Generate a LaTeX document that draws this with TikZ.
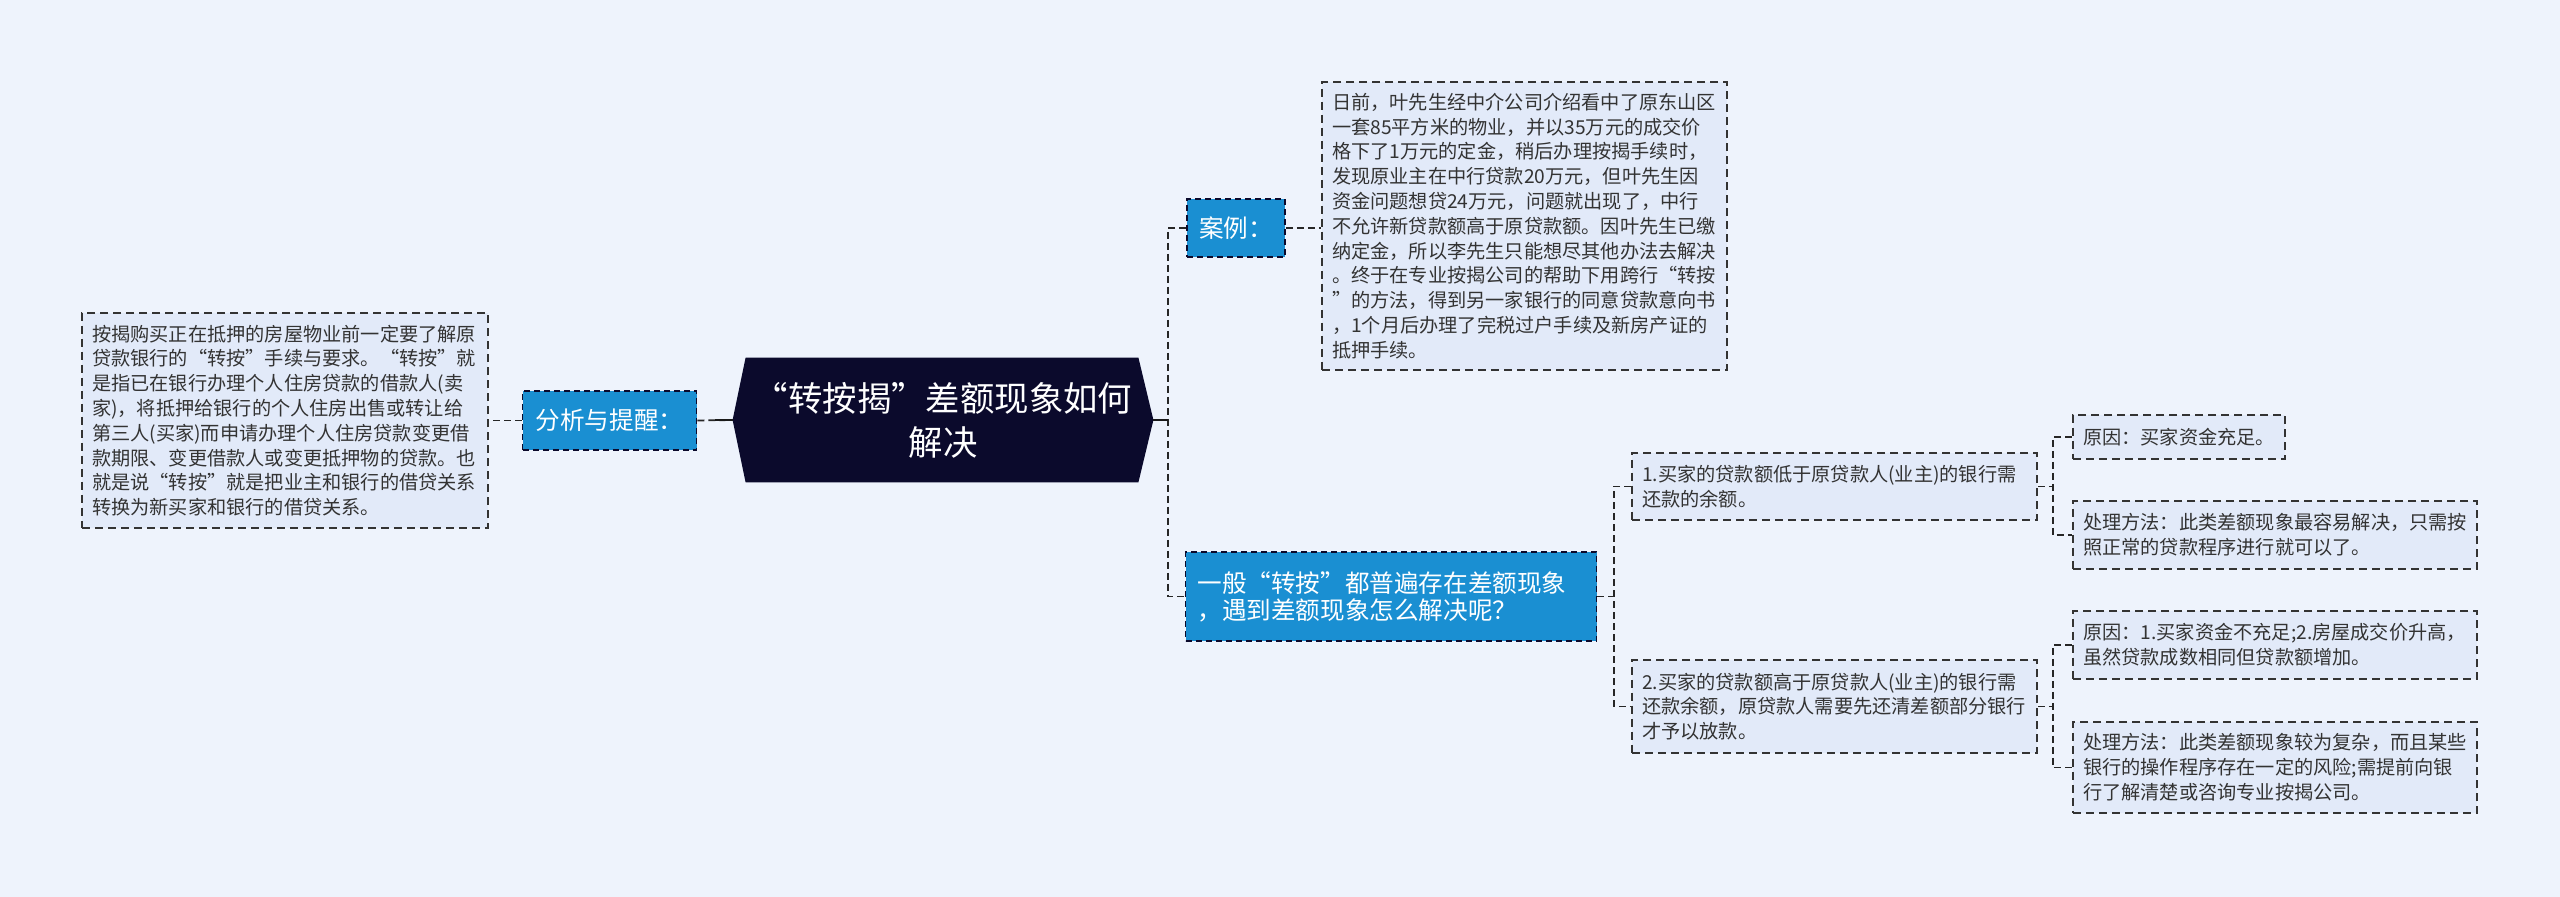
\documentclass[tikz,border=0pt]{standalone}
\usepackage{fontspec}
\setmainfont{Noto Sans CJK SC}
\usetikzlibrary{backgrounds}
\definecolor{bg}{HTML}{EEF3FC}
\definecolor{boxfill}{HTML}{E2EAF9}
\definecolor{bluefill}{HTML}{1A8FD2}
\definecolor{navy}{HTML}{0B0A2C}
\definecolor{txt}{HTML}{333333}
\begin{document}
\begin{tikzpicture}[x=0.5pt,y=-0.5pt,
  conn/.style={draw=black!85, line width=0.9pt, dash pattern=on 3.5pt off 2pt},
  solidconn/.style={draw=black!90, line width=1.4pt},
  textbox/.style={draw=black!80, line width=0.8pt, dash pattern=on 4pt off 2.5pt, fill=boxfill, text=txt, align=left, inner xsep=5pt, inner ysep=2pt, font=\fontsize{9.6}{12.4}\selectfont},
  bluebox/.style={draw=navy, line width=0.8pt, dash pattern=on 3pt off 2pt, fill=bluefill, text=white, align=left, inner xsep=6pt, inner ysep=2pt, font=\fontsize{12.3}{13.6}\selectfont},
  rootnode/.style={text=white, align=center, inner sep=0pt, font=\fontsize{17.2}{22}\selectfont}
]
\useasboundingbox (0,0) rectangle (2560,897);

% root
\node[rootnode, minimum width=210pt, minimum height=62pt] (root) at (943,420) {“转按揭”差额现象如何\\解决};

% left side
\node[bluebox, minimum width=87pt, minimum height=29.5pt, align=center] (fx) at (609.5,420.5) {分析与提醒：};
\node[textbox, text width=193pt, minimum height=107.5pt] (lb) at (285,420.5) {按揭购买正在抵押的房屋物业前一定要了解原\\贷款银行的“转按”手续与要求。“转按”就\\是指已在银行办理个人住房贷款的借款人(卖\\家)，将抵押给银行的个人住房出售或转让给\\第三人(买家)而申请办理个人住房贷款变更借\\款期限、变更借款人或变更抵押物的贷款。也\\就是说“转按”就是把业主和银行的借贷关系\\转换为新买家和银行的借贷关系。};

% right side, level 1
\node[bluebox, minimum width=49pt, minimum height=29pt, align=center] (case) at (1236,228) {案例：};
\node[bluebox, text width=193.5pt, minimum height=44.5pt] (gen) at (1391,596.5) {一般“转按”都普遍存在差额现象\\，遇到差额现象怎么解决呢？};

% level 2
\node[textbox, text width=192.5pt, minimum height=144pt] (cb) at (1524.5,226) {日前，叶先生经中介公司介绍看中了原东山区\\一套85平方米的物业，并以35万元的成交价\\格下了1万元的定金，稍后办理按揭手续时，\\发现原业主在中行贷款20万元，但叶先生因\\资金问题想贷24万元，问题就出现了，中行\\不允许新贷款额高于原贷款额。因叶先生已缴\\纳定金，所以李先生只能想尽其他办法去解决\\。终于在专业按揭公司的帮助下用跨行“转按\\”的方法，得到另一家银行的同意贷款意向书\\，1个月后办理了完税过户手续及新房产证的\\抵押手续。};
\node[textbox, text width=192.5pt, minimum height=33.5pt] (b1) at (1834.5,486.5) {1.买家的贷款额低于原贷款人(业主)的银行需\\还款的余额。};
\node[textbox, text width=192.5pt, minimum height=46.5pt] (b2) at (1834.5,706.5) {2.买家的贷款额高于原贷款人(业主)的银行需\\还款余额，原贷款人需要先还清差额部分银行\\才予以放款。};

% level 3
\node[textbox, text width=96pt, minimum height=22pt] (r1) at (2179,437) {原因：买家资金充足。};
\node[textbox, text width=192pt, minimum height=34pt] (r2) at (2275,535) {处理方法：此类差额现象最容易解决，只需按\\照正常的贷款程序进行就可以了。};
\node[textbox, text width=192pt, minimum height=34pt] (r3) at (2275,645) {原因：1.买家资金不充足;2.房屋成交价升高，\\虽然贷款成数相同但贷款额增加。};
\node[textbox, text width=192pt, minimum height=45.5pt] (r4) at (2275,767.5) {处理方法：此类差额现象较为复杂，而且某些\\银行的操作程序存在一定的风险;需提前向银\\行了解清楚或咨询专业按揭公司。};

% junctions
\coordinate (j1) at (1168,420);
\coordinate (j2) at (1614,596.5);
\coordinate (j3) at (2053,486.5);
\coordinate (j4) at (2053,706.5);

% connectors
\draw[conn] (fx.east) -- (root.west);
\draw[solidconn] (root.west) -- ++(-18,0);
\draw[conn] (fx.west) -- (fx.west -| lb.east);
\draw[conn] (case.west) -| (j1) |- (gen.west);
\draw[solidconn] (root.east) -- (j1);
\draw[conn] (case.east) -- (case.east -| cb.west);
\draw[conn] (b1.west) -| (j2) |- (b2.west);
\draw[conn] (gen.east) -- (j2);
\draw[conn] (r1.west) -| (j3) |- (r2.west);
\draw[conn] (b1.east) -- (j3);
\draw[conn] (r3.west) -| (j4) |- (r4.west);
\draw[conn] (b2.east) -- (j4);

\begin{scope}[on background layer]
\fill[bg] (0,0) rectangle (2560,897);
\fill[navy] (root.west) -- ([xshift=6.5pt]root.north west) -- ([xshift=-7.5pt]root.north east) -- (root.east) -- ([xshift=-7.5pt]root.south east) -- ([xshift=6.5pt]root.south west) -- cycle;
\end{scope}
\end{tikzpicture}
\end{document}
